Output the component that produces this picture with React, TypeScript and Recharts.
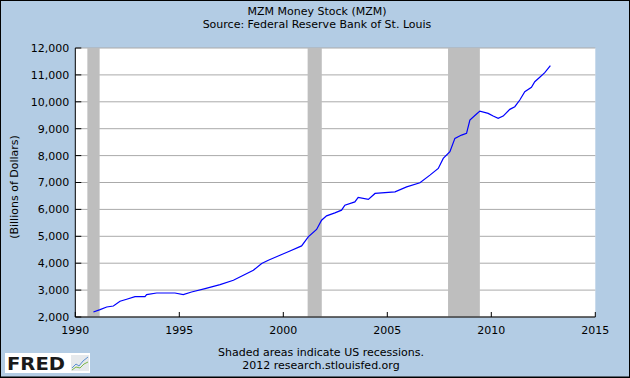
import React from "react";
import {
  LineChart,
  Line,
  XAxis,
  YAxis,
  CartesianGrid,
  ReferenceArea,
} from "recharts";

// Decimal years and MZM values (billions of dollars)
const dates = [
  1990.87, 1991.19, 1991.51, 1991.83, 1992.15, 1992.47, 1992.87, 1993.35, 1993.43,
  1993.91, 1994.79, 1995.19, 1995.59, 1996.24, 1996.96, 1997.6, 1998.08, 1998.56,
  1998.96, 1999.28, 1999.84, 2000.32, 2000.88, 2001.2, 2001.6, 2001.84, 2002.08,
  2002.48, 2002.8, 2002.96, 2003.44, 2003.6, 2004.09, 2004.41, 2005.37, 2005.93,
  2006.57, 2007.05, 2007.45, 2007.69, 2008.01, 2008.25, 2008.57, 2008.81, 2008.97,
  2009.29, 2009.45, 2009.85, 2010.09, 2010.33, 2010.57, 2010.89, 2011.13, 2011.37,
  2011.61, 2011.93, 2012.09, 2012.33, 2012.57, 2012.84,
];
const mzm = [
  2186, 2275, 2372, 2409, 2584, 2659, 2759, 2759, 2834,
  2893, 2893, 2834, 2930, 3057, 3206, 3366, 3552, 3738,
  3988, 4110, 4296, 4456, 4643, 4978, 5253, 5599, 5759,
  5871, 5971, 6157, 6280, 6444, 6370, 6593, 6653, 6839,
  6988, 7274, 7524, 7896, 8142, 8640, 8763, 8826, 9321,
  9544, 9656, 9570, 9469, 9383, 9469, 9719, 9817, 10066,
  10376, 10540, 10748, 10912, 11083, 11343,
];

const recessionStarts = [1990.58, 2001.17, 2007.92];
const recessionEnds = [1991.17, 2001.85, 2009.45];

const xTicks = [1990, 1995, 2000, 2005, 2010, 2015];
const yTicks = [2000, 3000, 4000, 5000, 6000, 7000, 8000, 9000, 10000, 11000, 12000];

const titleText = "MZM Money Stock (MZM)";
const sourceText = "Source: Federal Reserve Bank of St. Louis";
const yLabelText = "(Billions of Dollars)";
const noteText = "Shaded areas indicate US recessions.";
const creditText = "2012 research.stlouisfed.org";

const data = dates.map((d, i) => ({ date: d, value: mzm[i] }));

const FONT = "'DejaVu Sans', Verdana, sans-serif";
const BG = "#B3CCE4";

export default function App() {
  return (
    <div
      style={{
        position: "absolute",
        left: 0,
        top: 0,
        width: 630,
        height: 378,
        background: BG,
        fontFamily: FONT,
      }}
    >
      <LineChart
        width={630}
        height={378}
        data={data}
        margin={{ top: 48, right: 34.7, left: 0, bottom: 31 }}
      >
        <CartesianGrid vertical={false} stroke="#AAAAAA" fill="#FFFFFF" />
        {recessionStarts.map((s, i) => (
          <ReferenceArea
            key={i}
            x1={s}
            x2={recessionEnds[i]}
            fill="#BEBEBE"
            fillOpacity={1}
            stroke="none"
          />
        ))}
        <XAxis
          type="number"
          dataKey="date"
          domain={[1990, 2015]}
          ticks={xTicks}
          allowDataOverflow
          height={30}
          stroke="#000000"
          tickSize={-5}
          tickMargin={14}
          tick={{ fill: "#000000", fontSize: 11, fontFamily: FONT }}
          interval={0}
        />
        <YAxis
          type="number"
          domain={[2000, 12000]}
          ticks={yTicks}
          width={75.3}
          stroke="#000000"
          tickSize={-6}
          tickMargin={12}
          interval={0}
          tickFormatter={(v: number) => v.toLocaleString("en-US")}
          tick={{ fill: "#000000", fontSize: 11, fontFamily: FONT }}
        />
        <Line
          type="linear"
          dataKey="value"
          stroke="#0000FF"
          strokeWidth={1.2}
          dot={false}
          isAnimationActive={false}
        />
      </LineChart>
      <svg
        width={630}
        height={378}
        style={{ position: "absolute", left: 0, top: 0, pointerEvents: "none" }}
      >
        <text x={317} y={15} textAnchor="middle" fontSize={11} fontFamily={FONT} fill="#000">
          {titleText}
        </text>
        <text x={317} y={28} textAnchor="middle" fontSize={11} fontFamily={FONT} fill="#000">
          {sourceText}
        </text>
        <text
          transform="translate(18,187) rotate(-90)"
          textAnchor="middle"
          fontSize={11}
          fontFamily={FONT}
          fill="#000"
        >
          {yLabelText}
        </text>
        <text x={321} y={356} textAnchor="middle" fontSize={11} fontFamily={FONT} fill="#000">
          {noteText}
        </text>
        <text x={321} y={369} textAnchor="middle" fontSize={11} fontFamily={FONT} fill="#000">
          {creditText}
        </text>
        {/* FRED logo */}
        <rect x={5} y={353} width={85} height={20} fill="#FFFFFF" />
        <text
          x={7}
          y={369.5}
          fontSize={17}
          fontWeight="bold"
          fontFamily={FONT}
          fill="#1A1A1A"
          textLength={58}
          lengthAdjust="spacingAndGlyphs"
        >
          FRED
        </text>
        <rect x={71} y={355} width={18} height={16} fill="#E6E9EC" />
        <polyline
          points="72,368 76,364 79,366 83,361 88,357"
          fill="none"
          stroke="#5B8FD0"
          strokeWidth={1}
        />
        <polyline
          points="72,370 76,367 80,368 84,364 88,362"
          fill="none"
          stroke="#7DB84A"
          strokeWidth={1}
        />
        {/* frame */}
        <rect x={0.5} y={0.5} width={629} height={376.5} fill="none" stroke="#000" strokeWidth={1} />
        <line x1={0} y1={377.5} x2={630} y2={377.5} stroke="#000" strokeWidth={1} />
      </svg>
    </div>
  );
}
